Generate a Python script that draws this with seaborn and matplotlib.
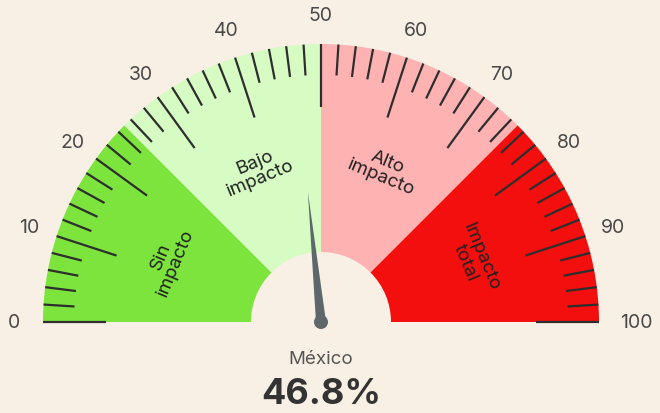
#!/usr/bin/env python3
import numpy as np
import seaborn as sns
import matplotlib.pyplot as plt
from matplotlib.patches import Wedge, Polygon, Circle

# data
seg_bounds = [0, 25, 50, 75, 100]
seg_labels = ['Sin\nimpacto', 'Bajo\nimpacto', 'Alto\nimpacto', 'Impacto\ntotal']
seg_colors = ['#7ce43d', '#d6fcc4', '#ffb2b2', '#f20f0d']
tick_values = list(range(0, 101, 2))
tick_labels = list(range(0, 101, 10))
value = 46.8
place = 'México'

BG = '#f8f0e4'
R, R_IN = 278, 70


def ang(v):
    # 0 -> left, 100 -> right
    return np.pi * (1 - v / 100)


def pt(v, r):
    a = ang(v)
    return r * np.cos(a), r * np.sin(a)


sns.set_theme(style='white')
plt.rcParams['font.family'] = ['Inter', 'DejaVu Sans']

fig = plt.figure(figsize=(6.6, 4.14), dpi=100, facecolor=BG)
ax = fig.add_axes([0, 0, 1, 1])
ax.set_facecolor(BG)
ax.set_xlim(-321, 339)
ax.set_ylim(-91, 323)
ax.axis('off')

# coloured segments
for lo, hi, c in zip(seg_bounds[:-1], seg_bounds[1:], seg_colors):
    ax.add_patch(Wedge((0, 0), R, 180 - hi * 1.8, 180 - lo * 1.8,
                       width=R - R_IN, facecolor=c, edgecolor='none'))

# ticks
for v in tick_values:
    if v in (25, 75):
        continue
    ln = 63 if v % 10 == 0 else 31
    x0, y0 = pt(v, R - ln)
    x1, y1 = pt(v, R)
    ax.plot([x0, x1], [y0, y1], color='#2e2e2e', lw=1.6, solid_capstyle='butt')

for v in tick_labels:
    x, y = pt(v, 307)
    if v == 100:
        x += 8
    ax.text(x, y, str(v), ha='center', va='center', fontsize=14, color='#4a4a4a')

# segment labels
for lo, hi, lab in zip(seg_bounds[:-1], seg_bounds[1:], seg_labels):
    mid = (lo + hi) / 2
    x, y = pt(mid, 165)
    rot = np.degrees(ang(mid)) - 90
    ax.text(x, y, lab, ha='center', va='center', rotation=rot, rotation_mode='anchor',
            multialignment='center', fontsize=13.5, color='#222222', linespacing=0.95)

# needle
a = ang(value)
tip = (131 * np.cos(a), 131 * np.sin(a))
perp = np.array([-np.sin(a), np.cos(a)])
b1 = perp * 5
ax.add_patch(Polygon([tip, tuple(b1), tuple(-b1)], closed=True,
                     facecolor='#5e686b', edgecolor='none', zorder=5))
ax.add_patch(Circle((0, 0), 7, facecolor='#5e686b', edgecolor='none', zorder=6))

ax.text(0, -37, place, ha='center', va='center', fontsize=13.5, color='#555555')
ax.text(0, -72, f'{value}%', ha='center', va='center', fontsize=26,
        fontweight='bold', color='#333333')

plt.savefig('out.png', dpi=100, facecolor=BG)
